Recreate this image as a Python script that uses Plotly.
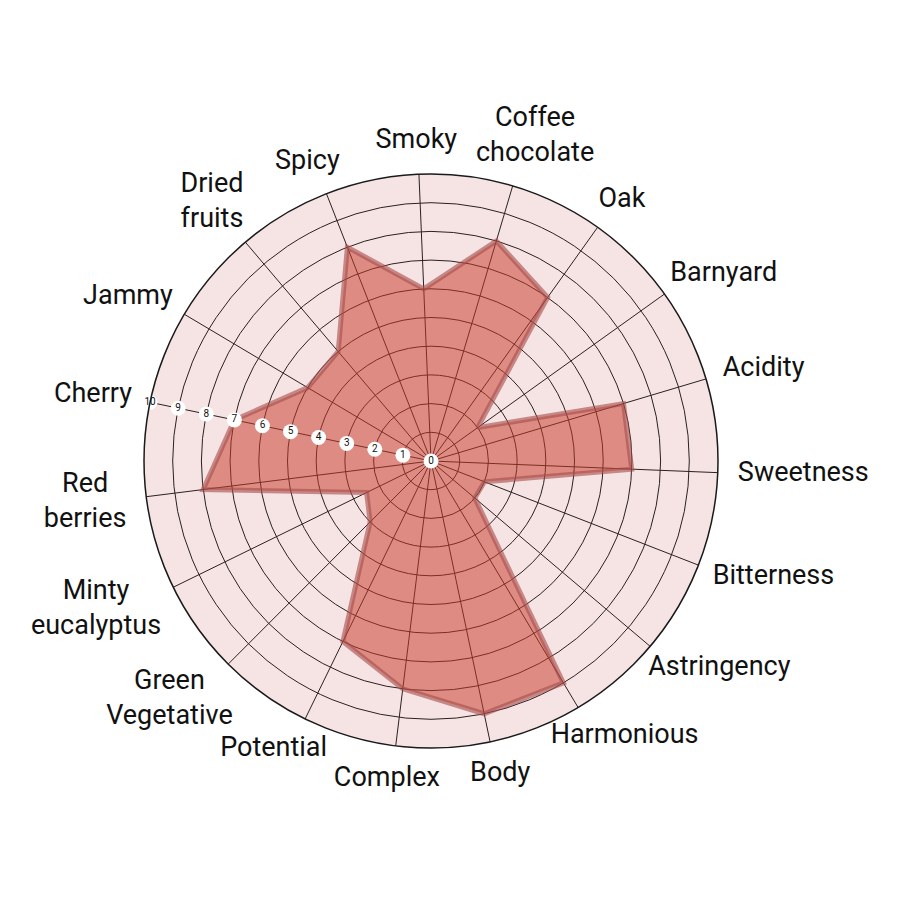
import math
import plotly.graph_objects as go

# wine tasting profile, 0-10 scale, clockwise starting at Cherry
categories = ['Cherry', 'Jammy', 'Dried<br>fruits', 'Spicy', 'Smoky', 'Coffee<br>chocolate', 'Oak',
              'Barnyard', 'Acidity', 'Sweetness', 'Bitterness', 'Astringency', 'Harmonious',
              'Body', 'Complex', 'Potential', 'Green<br>Vegetative', 'Minty<br>eucalyptus',
              'Red<br>berries']
scores = [7, 5, 5, 8, 6, 8, 7, 2, 7, 7, 2, 2, 9, 9, 8, 7, 3, 2.5, 8]
tick_values = [0, 1, 2, 3, 4, 5, 6, 7, 8, 9, 10]

ROTATION = 168.2
FONT_SIZE = 27

# pixel geometry of the chart disc (900 x 900 page); plotly nudges the disc ~7px right/down
cx, cy, rad = 423, 453, 287
rad_out = 400  # larger, invisible disc that carries the category labels

# rough Roboto glyph widths (em) for label sizing
narrow = {'i': .24, 'l': .24, 'j': .24, 't': .33, 'f': .35, 'r': .34, 'm': .88, 'w': .75, 'M': .87}


def square_domain(radius):
    return dict(x=[(cx - radius) / 900, (cx + radius) / 900],
                y=[1 - (cy + radius) / 900, 1 - (cy - radius) / 900])


def text_width(s):
    return sum(narrow.get(ch, 0.54) for ch in s) * FONT_SIZE


def label_position(k):
    # label centre: a point just outside the ring, shifted by half the label box
    a = math.radians(ROTATION - k * 360 / len(categories))
    lines = categories[k].split('<br>')
    half_w = max(text_width(s) for s in lines) / 2
    half_h = (FONT_SIZE + (len(lines) - 1) * 1.3 * FONT_SIZE) / 2
    x = (rad + 20) * math.cos(a) + half_w * math.cos(a)
    y = (rad + 20) * math.sin(a) + half_h * math.sin(a)
    return math.hypot(x, y) / rad * 10, math.degrees(math.atan2(y, x))


label_pos = [label_position(k) for k in range(len(categories))]

fig = go.Figure()

fig.add_trace(go.Scatterpolar(
    r=scores + scores[:1],
    theta=categories + categories[:1],
    mode='lines',
    fill='toself',
    fillcolor='rgba(200, 60, 42, 0.52)',
    line=dict(color='rgba(165, 75, 74, 0.6)', width=5),
    hoverinfo='skip',
))

# circled numbers along the Cherry spoke act as the radial scale
fig.add_trace(go.Scatterpolar(
    r=tick_values,
    theta=['Cherry'] * len(tick_values),
    mode='markers+text',
    marker=dict(color='white', size=15, line=dict(width=0)),
    text=[str(v) for v in tick_values],
    textposition='middle center',
    textfont=dict(family='Roboto', size=10, color='#111111'),
    cliponaxis=False,
    hoverinfo='skip',
))

# category names around the outer ring
fig.add_trace(go.Scatterpolar(
    r=[p[0] for p in label_pos],
    theta=[p[1] for p in label_pos],
    mode='text',
    text=categories,
    textposition='middle center',
    textfont=dict(family='Roboto', size=FONT_SIZE, color='#111111'),
    cliponaxis=False,
    hoverinfo='skip',
    subplot='polar2',
))

fig.update_layout(
    width=900,
    height=900,
    paper_bgcolor='white',
    showlegend=False,
    margin=dict(l=0, r=0, t=0, b=0),
    font=dict(family='Roboto', size=FONT_SIZE, color='#111111'),
    polar=dict(
        domain=square_domain(rad),
        bgcolor='#f6e4e4',
        angularaxis=dict(
            categoryarray=categories,
            direction='clockwise',
            rotation=ROTATION,
            showline=True,
            linecolor='#1a1a1a',
            linewidth=1.5,
            gridcolor='#2b2020',
            gridwidth=1,
            ticks='',
            showticklabels=False,
        ),
        radialaxis=dict(
            range=[0, 10],
            tickvals=tick_values,
            showticklabels=False,
            ticks='',
            showline=False,
            gridcolor='#2b2020',
            gridwidth=1,
        ),
    ),
    polar2=dict(
        domain=square_domain(rad_out),
        bgcolor='rgba(0,0,0,0)',
        angularaxis=dict(
            type='linear',
            thetaunit='degrees',
            direction='counterclockwise',
            rotation=0,
            showline=False,
            showgrid=False,
            ticks='',
            showticklabels=False,
        ),
        radialaxis=dict(
            range=[0, 10 * rad_out / rad],
            showline=False,
            showgrid=False,
            ticks='',
            showticklabels=False,
        ),
    ),
)

fig.write_html('out.html')
